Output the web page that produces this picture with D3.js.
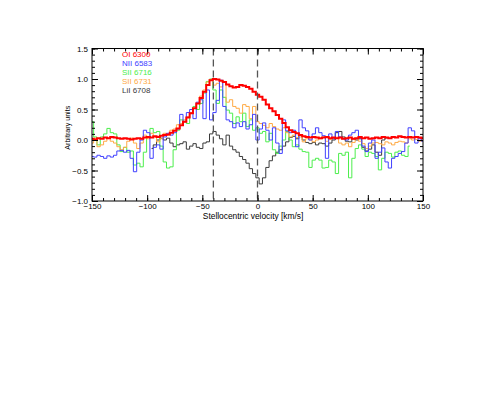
<!DOCTYPE html>
<html>
<head>
<meta charset="utf-8">
<script src="https://cdn.jsdelivr.net/npm/d3@7"></script>
<style>
  body { margin: 0; background: #fff; }
  svg text { font-family: "Liberation Sans", Arial, sans-serif; }
</style>
</head>
<body>
<div id="chart"></div>
<script>
// velocity grid, km/s (3 km/s bins)
const velocity = d3.range(-150, 151, 3);

const xTicks = [-150, -100, -50, 0, 50, 100, 150];
const yTicks = [-1.0, -0.5, 0.0, 0.5, 1.0, 1.5];
const markerVelocities = [-40, 0];

const oi6300 = [
  0.02, 0.01, 0.03, 0.02, 0.04, 0.03, 0.05, 0.04, 0.03, 0.02,
  0.03, 0.02, 0.01, 0.02, 0.03, 0.02, 0.04, 0.05, 0.04, 0.06,
  0.05, 0.07, 0.08, 0.09, 0.12, 0.15, 0.19, 0.24, 0.30, 0.37,
  0.44, 0.52, 0.60, 0.69, 0.79, 0.90, 0.98, 1.00, 0.99, 0.97,
  0.95, 0.91, 0.88, 0.86, 0.87, 0.90, 0.89, 0.87, 0.84, 0.79,
  0.74, 0.71, 0.66, 0.58, 0.52, 0.47, 0.41, 0.35, 0.28, 0.21,
  0.16, 0.13, 0.11, 0.08, 0.06, 0.05, 0.04, 0.05, 0.04, 0.03,
  0.04, 0.05, 0.03, 0.04, 0.03, 0.04, 0.02, 0.03, 0.04, 0.02,
  0.03, 0.05, 0.03, 0.04, 0.02, 0.03, 0.04, 0.03, 0.05, 0.04,
  0.03, 0.05, 0.04, 0.06, 0.05, 0.04, 0.05, 0.04, 0.05, 0.04,
  0.03
];

const nii6583 = [
  -0.27, -0.28, -0.25, -0.27, -0.30, -0.26, -0.28, -0.25, -0.18, -0.17,
  -0.20, -0.17, -0.30, -0.52, -0.20, 0.00, 0.16, 0.12, -0.30, -0.12,
  -0.08, -0.15, 0.05, 0.11, 0.08, 0.12, 0.18, 0.42, 0.30, 0.45,
  0.50, 0.35, 0.62, 0.66, 0.35, 0.82, 0.33, 0.45, 0.65, 0.98,
  0.55, 0.33, 0.30, 0.20, 0.28, 0.22, 0.30, 0.18, 0.25, 0.42,
  0.00, 0.18, 0.28, 0.16, 0.00, 0.20, -0.05, -0.22, 0.33, 0.15,
  0.12, 0.16, -0.11, 0.33, 0.20, 0.15, 0.00, 0.10, 0.20, 0.12,
  0.07, -0.30, 0.10, 0.02, 0.14, 0.05, 0.02, 0.00, 0.08, 0.12,
  0.16, 0.03, -0.10, -0.19, -0.05, 0.00, -0.30, -0.20, -0.13, -0.36,
  -0.46, -0.30, -0.27, -0.22, -0.19, -0.05, 0.20, 0.15, -0.05, 0.02,
  -0.02
];

const sii6716 = [
  0.30, 0.05, -0.08, 0.05, 0.10, 0.19, 0.12, 0.10, -0.08, -0.19,
  -0.12, -0.20, -0.18, -0.41, -0.38, -0.44, -0.20, 0.05, 0.19, 0.12,
  0.14, -0.10, -0.36, -0.46, -0.44, -0.16, 0.16, 0.33, 0.30, 0.27,
  0.45, 0.55, 0.50, 0.60, 0.77, 0.96, 1.00, 0.82, 0.60, 0.82,
  0.70, 0.49, 0.44, 0.27, 0.38, 0.30, 0.44, 0.22, 0.33, 0.16,
  0.20, 0.11, 0.14, -0.03, 0.11, -0.16, -0.22, -0.10, 0.00, 0.14,
  0.00, -0.11, -0.08, -0.15, -0.19, -0.20, -0.45, -0.33, -0.30, -0.33,
  -0.46, -0.45, -0.33, -0.36, -0.55, -0.22, -0.25, -0.20, -0.62, -0.30,
  -0.14, -0.08, -0.15, -0.27, -0.20, -0.22, -0.27, -0.49, -0.30, -0.20,
  -0.22, -0.28, -0.20, -0.18, -0.25, -0.27, -0.10, null, null, null,
  null
];

const sii6731 = [
  -0.05, 0.03, -0.11, -0.08, -0.02, 0.03, -0.02, -0.05, -0.11, -0.16,
  -0.12, -0.02, 0.03, -0.05, -0.14, -0.05, 0.08, 0.02, 0.11, 0.05,
  -0.03, 0.02, 0.11, 0.08, 0.16, 0.18, 0.25, 0.27, 0.33, 0.38,
  0.45, 0.52, 0.60, 0.72, 0.82, 0.95, 0.99, 0.90, 0.93, 0.87,
  0.96, 0.62, 0.66, 0.55, 0.52, 0.44, 0.58, 0.55, 0.35, 0.55,
  0.30, 0.27, 0.24, 0.20, 0.27, 0.22, 0.18, 0.16, 0.20, 0.12,
  0.05, 0.08, 0.04, 0.05, -0.03, 0.02, 0.00, -0.03, 0.00, 0.02,
  0.05, -0.02, 0.01, 0.03, 0.03, -0.05, -0.08, -0.05, -0.11, -0.04,
  0.03, -0.02, -0.06, -0.14, -0.10, -0.05, -0.04, -0.06, -0.08, -0.03,
  -0.05, -0.08, -0.04, -0.02, -0.03, -0.05, 0.02, 0.00, 0.01, -0.02,
  -0.02
];

const lii6708 = [
  null, null, null, null, null, null, null, null, null, null,
  null, null, null, null, null, null, null, null, -0.14, -0.08,
  0.00, 0.03, 0.00, 0.03, -0.05, -0.11, -0.08, -0.06, -0.03, -0.15,
  -0.10, -0.06, -0.12, -0.14, -0.05, -0.03, 0.10, 0.14, 0.08, 0.02,
  -0.08, 0.08, -0.10, -0.16, -0.20, -0.27, -0.32, -0.38, -0.47, -0.55,
  -0.62, -0.72, -0.62, -0.45, -0.34, -0.26, -0.20, -0.16, -0.10, -0.03,
  0.04, 0.06, 0.02, 0.08, 0.00, -0.04, -0.06, -0.04, -0.08, -0.05,
  -0.06, -0.10, -0.05, 0.00, 0.12, 0.14, 0.05, -0.02, -0.03, 0.02,
  0.00, 0.02, -0.12, -0.18, -0.15, -0.08, -0.20, -0.25, 0.00, 0.03,
  null, null, null, null, null, null, null, null, null, null,
  null
];

const seriesNames = ['OI 6300', 'NII 6583', 'SII 6716', 'SII 6731', 'LiI 6708'];
const seriesValues = [oi6300, nii6583, sii6716, sii6731, lii6708];
const seriesColors = ['#ff0000', '#4040ff', '#4cee4c', '#ffaa44', '#3a3a3a'];
const drawOrder = [4, 2, 3, 1, 0];

const layout = {
  width: 480,
  height: 409,
  margin: { left: 92, top: 48.5, right: 57, bottom: 208 }
};
layout.innerWidth = layout.width - layout.margin.left - layout.margin.right;
layout.innerHeight = layout.height - layout.margin.top - layout.margin.bottom;

const svg = d3.select('#chart')
  .append('svg')
  .attr('width', layout.width)
  .attr('height', layout.height);

const plot = svg.append('g')
  .attr('transform', `translate(${layout.margin.left},${layout.margin.top})`);

const x = d3.scaleLinear().domain([-150, 150]).range([0, layout.innerWidth]);
const y = d3.scaleLinear().domain([-1.0, 1.5]).range([layout.innerHeight, 0]);

plot.append('clipPath').attr('id', 'clip')
  .append('rect')
  .attr('width', layout.innerWidth)
  .attr('height', layout.innerHeight);

const line = d3.line()
  .defined(d => d.value !== null)
  .x(d => x(d.v))
  .y(d => y(d.value))
  .curve(d3.curveStep);

const lines = plot.append('g').attr('clip-path', 'url(#clip)');

drawOrder.forEach(i => {
  const data = velocity.map((v, k) => ({ v, value: seriesValues[i][k] }));
  lines.append('path')
    .datum(data)
    .attr('fill', 'none')
    .attr('stroke', seriesColors[i])
    .attr('stroke-width', i === 0 ? 2 : 1)
    .attr('d', line);
});

plot.selectAll('.marker')
  .data(markerVelocities)
  .join('line')
  .attr('class', 'marker')
  .attr('x1', d => x(d)).attr('x2', d => x(d))
  .attr('y1', 0).attr('y2', layout.innerHeight)
  .attr('stroke', '#555')
  .attr('stroke-width', 1.3)
  .attr('stroke-dasharray', '7,4');

// axes: IDL-style inward ticks on all four sides
const xMinor = d3.range(-150, 151, 10);
const yMinor = d3.range(-1.0, 1.51, 0.1);

function tickAxis(axisFn, scale, major, minor, size, minorSize, transform, showLabels, fmt) {
  plot.append('g')
    .attr('transform', transform)
    .call(axisFn(scale).tickValues(minor).tickSize(minorSize).tickFormat(''))
    .call(g => g.select('.domain').remove());
  const g = plot.append('g')
    .attr('transform', transform)
    .call(axisFn(scale).tickValues(major).tickSize(size).tickPadding(showLabels ? 4 : 0)
      .tickFormat(showLabels ? fmt : ''));
  g.select('.domain').remove();
  g.selectAll('text').attr('font-size', 8).attr('fill', '#000');
  return g;
}

const fmtX = d3.format('d');
const fmtY = d3.format('.1f');

const xBottom = tickAxis(d3.axisBottom, x, xTicks, xMinor, -6, -3, `translate(0,${layout.innerHeight})`, true, fmtX);
xBottom.selectAll('text').attr('y', 8).attr('dy', 0);
tickAxis(d3.axisTop, x, xTicks, xMinor, -6, -3, 'translate(0,0)', false);
const yLeft = tickAxis(d3.axisLeft, y, yTicks, yMinor, -6, -3, 'translate(0,0)', true, fmtY);
yLeft.selectAll('text').attr('x', -4);
tickAxis(d3.axisRight, y, yTicks, yMinor, -6, -3, `translate(${layout.innerWidth},0)`, false);

plot.append('rect')
  .attr('width', layout.innerWidth)
  .attr('height', layout.innerHeight)
  .attr('fill', 'none')
  .attr('stroke', '#000')
  .attr('stroke-width', 1);

plot.append('text')
  .attr('x', x(-4))
  .attr('y', layout.innerHeight + 17.5)
  .attr('text-anchor', 'middle')
  .attr('font-size', 8.4)
  .text('Stellocentric velocity [km/s]');

plot.append('text')
  .attr('transform', `translate(-22,${layout.innerHeight / 2 + 3}) rotate(-90)`)
  .attr('text-anchor', 'middle')
  .attr('font-size', 8)
  .attr('textLength', 44)
  .attr('lengthAdjust', 'spacingAndGlyphs')
  .text('Arbitrary units');

const legend = plot.append('g').attr('transform', 'translate(30,8)');
seriesNames.forEach((name, i) => {
  legend.append('text')
    .attr('x', 0)
    .attr('y', i * 9)
    .attr('font-size', 8)
    .attr('fill', seriesColors[i])
    .text(name);
});
</script>
</body>
</html>
